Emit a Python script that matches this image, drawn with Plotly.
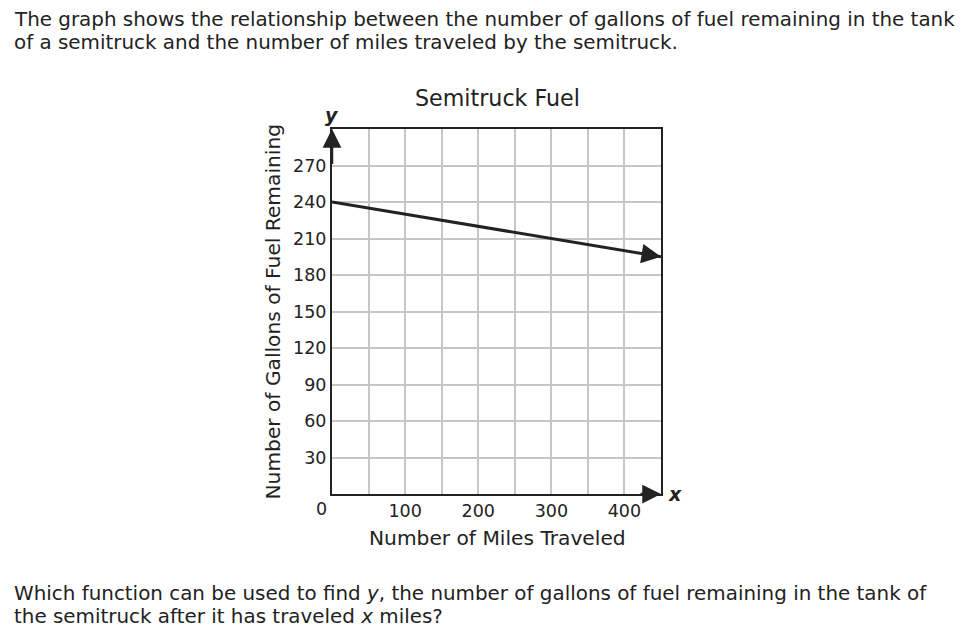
import plotly.graph_objects as go

# ---- data ----
miles = [0, 450]
gallons = [240, 195]
x_tick_vals = [50, 100, 150, 200, 250, 300, 350, 400]
x_tick_text = ["", "100", "", "200", "", "300", "", "400"]
y_tick_vals = [30, 60, 90, 120, 150, 180, 210, 240, 270]
y_tick_text = ["30", "60", "90", "120", "150", "180", "210", "240", "270"]
x_range = [0, 450]
y_range = [0, 300]

title_text = "Semitruck Fuel"
x_title = "Number of Miles Traveled"
y_title = "Number of Gallons of Fuel Remaining"
intro_lines = ["The graph shows the relationship between the number of gallons of fuel remaining in the tank",
               "of a semitruck and the number of miles traveled by the semitruck."]
question_lines = ["Which function can be used to find <i>y</i>, the number of gallons of fuel remaining in the tank of",
                  "the semitruck after it has traveled <i>x</i> miles?"]

# ---- layout geometry (screen pixels; page body has an 8px margin) ----
OFF = 8
SW, SH = 968, 636
W, H = SW - OFF, SH - OFF
L, R, T, B = 332, 661, 129, 494
FONT = "DejaVu Sans, Verdana, sans-serif"
INK = "#222222"
GRID = "#c6c6c6"


def px(xp):
    return (xp - L) / (R - L)


def py(yp):
    return (B - yp) / (B - T)


def label(xs, ys, text, size, **kw):
    d = dict(x=px(xs), y=py(ys), xref="paper", yref="paper", showarrow=False,
             xanchor="center", yanchor="middle", text=text,
             font=dict(family=FONT, size=size, color=INK))
    d.update(kw)
    return d


fig = go.Figure()
fig.add_trace(go.Scatter(x=miles, y=gallons, mode="lines",
                         line=dict(color=INK, width=3), hoverinfo="skip",
                         showlegend=False, cliponaxis=False))

annotations = [
    # line arrow head
    dict(x=miles[-1], y=gallons[-1], ax=miles[-1] - 20, ay=gallons[-1] + 2,
         xref="x", yref="y", axref="x", ayref="y", showarrow=True,
         arrowhead=2, arrowsize=1.3, arrowwidth=3, arrowcolor=INK, text=""),
    # x axis arrow
    dict(x=x_range[1], y=0, ax=x_range[1] - 30, ay=0,
         xref="x", yref="y", axref="x", ayref="y", showarrow=True,
         arrowhead=2, arrowsize=1.5, arrowwidth=2.5, arrowcolor=INK, text=""),
    # y axis arrow
    dict(x=0, y=y_range[1], ax=0, ay=y_range[1] - 30,
         xref="x", yref="y", axref="x", ayref="y", showarrow=True,
         arrowhead=2, arrowsize=1.5, arrowwidth=2.5, arrowcolor=INK, text=""),
    label(674.5, 494, "<b><i>x</i></b>", 19),
    label(332, 115, "<b><i>y</i></b>", 19),
    label(321, 509, "0", 17.5),
    label(497, 98, title_text, 22.2),
    label(497, 538, x_title, 20.2),
    label(272, 311.5, y_title, 20.2, textangle=-90),
]
for ln, yc in zip(intro_lines, [19.2, 42.8]):
    annotations.append(label(12, yc, ln, 19.9, xanchor="left"))
for ln, yc in zip(question_lines, [593.8, 616.8]):
    annotations.append(label(12, yc, ln, 19.9, xanchor="left"))

fig.update_layout(
    width=W, height=H,
    margin=dict(l=L - OFF, r=SW - R, t=T - OFF, b=SH - B, pad=0),
    paper_bgcolor="white", plot_bgcolor="white",
    font=dict(family=FONT, color=INK),
    annotations=annotations,
    showlegend=False,
)
fig.update_xaxes(range=x_range, tickvals=x_tick_vals, ticktext=x_tick_text,
                 showgrid=True, gridcolor=GRID, gridwidth=2,
                 showline=True, linecolor=INK, linewidth=2, mirror=True,
                 ticks="", zeroline=False, tickfont=dict(size=17.5, color=INK),
                 fixedrange=True)
fig.update_yaxes(range=y_range, tickvals=y_tick_vals, ticktext=y_tick_text,
                 showgrid=True, gridcolor=GRID, gridwidth=2,
                 showline=True, linecolor=INK, linewidth=2, mirror=True,
                 ticks="", zeroline=False, tickfont=dict(size=17.5, color=INK),
                 fixedrange=True)

fig.write_html("out.html")
